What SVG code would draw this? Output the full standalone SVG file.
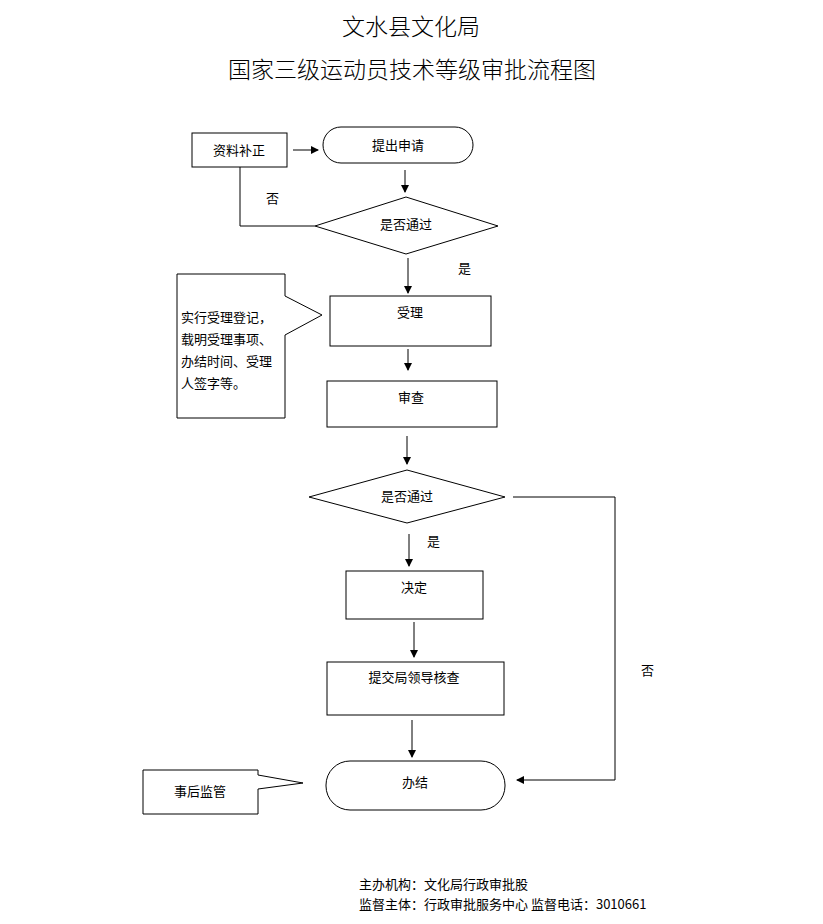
<svg xmlns="http://www.w3.org/2000/svg" width="823" height="924" viewBox="0 0 823 924">
<style>
text{font-family:"Noto Sans CJK SC","Liberation Sans",sans-serif;font-size:13px;fill:#000}
.s{fill:#fff;stroke:#000;stroke-width:1}
.l{fill:none;stroke:#000;stroke-width:1}
.t{font-size:23px;font-weight:300}
.c{text-anchor:middle}
</style>
<defs><marker id="a" markerWidth="8" markerHeight="8" refX="7" refY="4" orient="auto" markerUnits="userSpaceOnUse"><path d="M0,0 L8,4 L0,8 z" fill="#000"/></marker></defs>
<rect width="823" height="924" fill="#fff"/>
<g id="title"><text class="t c" x="411" y="35">文水县文化局</text><text class="t c" x="412" y="78">国家三级运动员技术等级审批流程图</text></g>
<g id="connectors">
<line class="l" x1="293" y1="150" x2="318" y2="150" marker-end="url(#a)"/>
<line class="l" x1="405" y1="170" x2="405" y2="192" marker-end="url(#a)"/>
<polyline class="l" points="315,226 240,226 240,167"/>
<line class="l" x1="408" y1="258" x2="408" y2="293" marker-end="url(#a)"/>
<line class="l" x1="408" y1="349" x2="408" y2="370" marker-end="url(#a)"/>
<line class="l" x1="407" y1="436" x2="407" y2="464" marker-end="url(#a)"/>
<polyline class="l" points="513,497 615,497 615,780 517,780" marker-end="url(#a)"/>
<line class="l" x1="409" y1="534" x2="409" y2="566" marker-end="url(#a)"/>
<line class="l" x1="414" y1="622" x2="414" y2="657" marker-end="url(#a)"/>
<line class="l" x1="412" y1="720" x2="412" y2="757" marker-end="url(#a)"/>
<text x="266" y="203">否</text><text x="458" y="273">是</text><text x="427" y="546">是</text><text x="641" y="675">否</text>
</g>
<g id="n1"><rect class="s" x="192" y="133" width="95" height="34"/><text class="c" x="239" y="155">资料补正</text></g>
<g id="n2"><rect class="s" x="323" y="127" width="150" height="36" rx="18"/><text class="c" x="398" y="150">提出申请</text></g>
<g id="n3"><polygon class="s" points="315,226 406,197 498,226 406,254"/><text class="c" x="406" y="229">是否通过</text></g>
<g id="n4"><rect class="s" x="330" y="296" width="161" height="50"/><text class="c" x="410" y="317">受理</text></g>
<g id="n5"><path class="s" d="M177,274 H285 V296 L322,315 L285,335 V418 H177 Z"/><text x="181" y="322">实行受理登记，</text><text x="181" y="344">载明受理事项、</text><text x="181" y="366">办结时间、受理</text><text x="181" y="388">人签字等。</text></g>
<g id="n6"><rect class="s" x="327" y="381" width="170" height="46"/><text class="c" x="411" y="402">审查</text></g>
<g id="n7"><polygon class="s" points="309,497 407,470 505,497 407,523"/><text class="c" x="407" y="501">是否通过</text></g>
<g id="n8"><rect class="s" x="346" y="571" width="137" height="48"/><text class="c" x="414" y="592">决定</text></g>
<g id="n9"><rect class="s" x="327" y="662" width="177" height="53"/><text class="c" x="414" y="682">提交局领导核查</text></g>
<g id="n10"><rect class="s" x="326" y="761" width="179" height="49" rx="24"/><text class="c" x="415" y="787">办结</text></g>
<g id="n11"><path class="s" d="M143,770 H258 V775 L303,783 L258,789 V814 H143 Z"/><text class="c" x="200" y="796">事后监管</text></g>
<g id="footer"><text x="359" y="889">主办机构：文化局行政审批股</text><text x="359" y="909">监督主体：行政审批服务中心  监督电话：3010661</text></g>
</svg>
